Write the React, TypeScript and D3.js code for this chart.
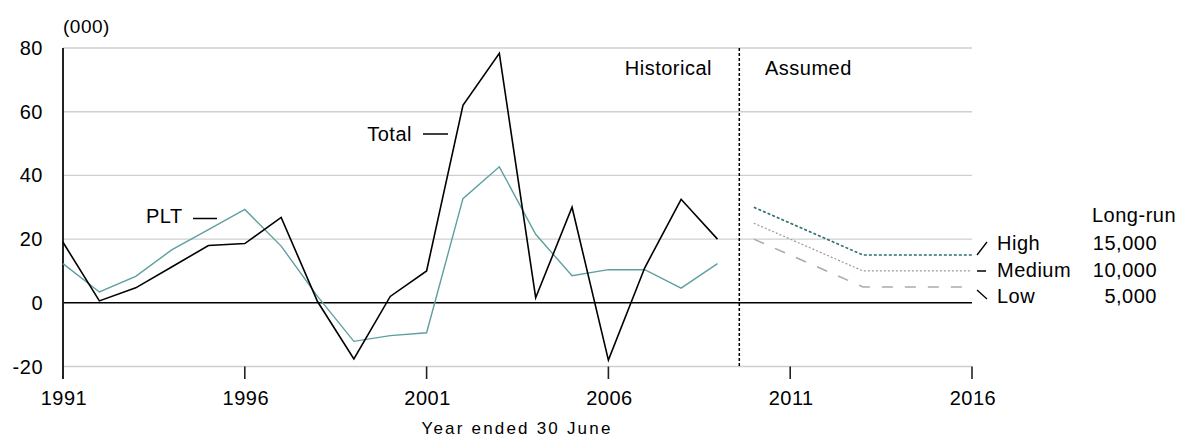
import { line, scaleLinear } from "d3";

const histYears = [
  1991, 1992, 1993, 1994, 1995, 1996, 1997, 1998, 1999, 2000, 2001, 2002, 2003,
  2004, 2005, 2006, 2007, 2008, 2009,
];
const totalValues = [
  19, 0.6, 4.7, 11.3, 18, 18.6, 26.8, 0.4, -17.6, 2, 10, 62, 78.3, 1.6, 30, -18,
  11, 32.5, 20,
];
const pltValues = [
  12.3, 3.4, 8.3, 16.7, 23, 29.3, 17.8, 2, -12.1, -10.3, -9.4, 32.7, 42.7, 21.5,
  8.5, 10.4, 10.4, 4.6, 12.3,
];

const projYears = [2010, 2011, 2012, 2013, 2014, 2015, 2016];
const highValues = [30, 25, 20, 15, 15, 15, 15];
const mediumValues = [25, 20, 15, 10, 10, 10, 10];
const lowValues = [20, 15, 10, 5, 5, 5, 5];

const yTicks = [80, 60, 40, 20, 0, -20];
const xTicks = [1991, 1996, 2001, 2006, 2011, 2016];
const dividerYear = 2009.6;

const font = "'Liberation Sans', Arial, sans-serif";

export default function App() {
  const width = 1186;
  const height = 437;
  const x = scaleLinear().domain([1991, 2016]).range([63, 972]);
  const y = scaleLinear().domain([-20, 80]).range([366.5, 48]);

  const path = (years: number[], values: number[]) =>
    line<number>()
      .x((_, i) => x(years[i]))
      .y((v) => y(v))(values) ?? "";

  const textStyle = { fontFamily: font, fontSize: 20, letterSpacing: 0.5, fill: "#000" };

  return (
    <svg
      width={width}
      height={height}
      style={{ position: "absolute", left: 0, top: 0, background: "#fff" }}
    >
      {/* grid */}
      {yTicks.map((t) => (
        <line
          key={`g${t}`}
          x1={x(1991)}
          x2={x(2016)}
          y1={y(t)}
          y2={y(t)}
          stroke={t === 0 ? "#000" : "#cfcfcf"}
          strokeWidth={t === 0 ? 1.6 : 1.4}
        />
      ))}
      {/* y axis */}
      <line x1={x(1991)} x2={x(1991)} y1={y(80)} y2={379} stroke="#222" strokeWidth={2} />
      {xTicks.slice(1).map((t) => (
        <line key={`t${t}`} x1={x(t)} x2={x(t)} y1={y(-20)} y2={379} stroke="#222" strokeWidth={1.6} />
      ))}
      {yTicks.map((t) => (
        <text key={`yl${t}`} x={43} y={y(t) + 7} textAnchor="end" style={textStyle}>
          {t}
        </text>
      ))}
      {xTicks.map((t) => (
        <text key={`xl${t}`} x={x(t) + 1} y={405} textAnchor="middle" style={textStyle}>
          {t}
        </text>
      ))}
      <text x={63} y={33} style={{ ...textStyle, fontSize: 19 }}>
        (000)
      </text>
      <text
        x={517}
        y={434}
        textAnchor="middle"
        style={{ ...textStyle, fontSize: 17, letterSpacing: 2.2 }}
      >
        Year ended 30 June
      </text>

      {/* divider */}
      <line
        x1={x(dividerYear)}
        x2={x(dividerYear)}
        y1={y(80)}
        y2={y(-20)}
        stroke="#000"
        strokeWidth={1.5}
        strokeDasharray="3,2"
      />
      <text x={712} y={75} textAnchor="end" style={textStyle}>
        Historical
      </text>
      <text x={765} y={75} style={textStyle}>
        Assumed
      </text>

      {/* series */}
      <path d={path(histYears, pltValues)} fill="none" stroke="#5f9fa0" strokeWidth={1.4} />
      <path d={path(histYears, totalValues)} fill="none" stroke="#000" strokeWidth={1.6} />
      <path
        d={path(projYears, highValues)}
        fill="none"
        stroke="#2c6f70"
        strokeWidth={1.6}
        strokeDasharray="3,2"
      />
      <path
        d={path(projYears, mediumValues)}
        fill="none"
        stroke="#999"
        strokeWidth={1.2}
        strokeDasharray="2,2"
      />
      <path
        d={path(projYears, lowValues)}
        fill="none"
        stroke="#aaa"
        strokeWidth={1.5}
        strokeDasharray="11,12"
      />

      {/* series labels */}
      <text x={412} y={140.5} textAnchor="end" style={textStyle}>
        Total
      </text>
      <line x1={423} x2={448} y1={134} y2={134} stroke="#000" strokeWidth={1.5} />
      <text x={146} y={223} style={textStyle}>
        PLT
      </text>
      <line x1={193} x2={217} y1={218.5} y2={218.5} stroke="#000" strokeWidth={1.5} />

      {/* right legend */}
      <text x={1092} y={222} style={textStyle}>
        Long-run
      </text>
      <line x1={977} x2={987} y1={255} y2={242} stroke="#000" strokeWidth={1.3} />
      <text x={997} y={250} style={textStyle}>
        High
      </text>
      <text x={1157} y={250} textAnchor="end" style={textStyle}>
        15,000
      </text>
      <line x1={977} x2={986} y1={271} y2={271} stroke="#000" strokeWidth={1.5} />
      <text x={997} y={277} style={textStyle}>
        Medium
      </text>
      <text x={1157} y={277} textAnchor="end" style={textStyle}>
        10,000
      </text>
      <line x1={977} x2={987} y1={290} y2={299} stroke="#000" strokeWidth={1.3} />
      <text x={997} y={303} style={textStyle}>
        Low
      </text>
      <text x={1157} y={303} textAnchor="end" style={textStyle}>
        5,000
      </text>
    </svg>
  );
}
